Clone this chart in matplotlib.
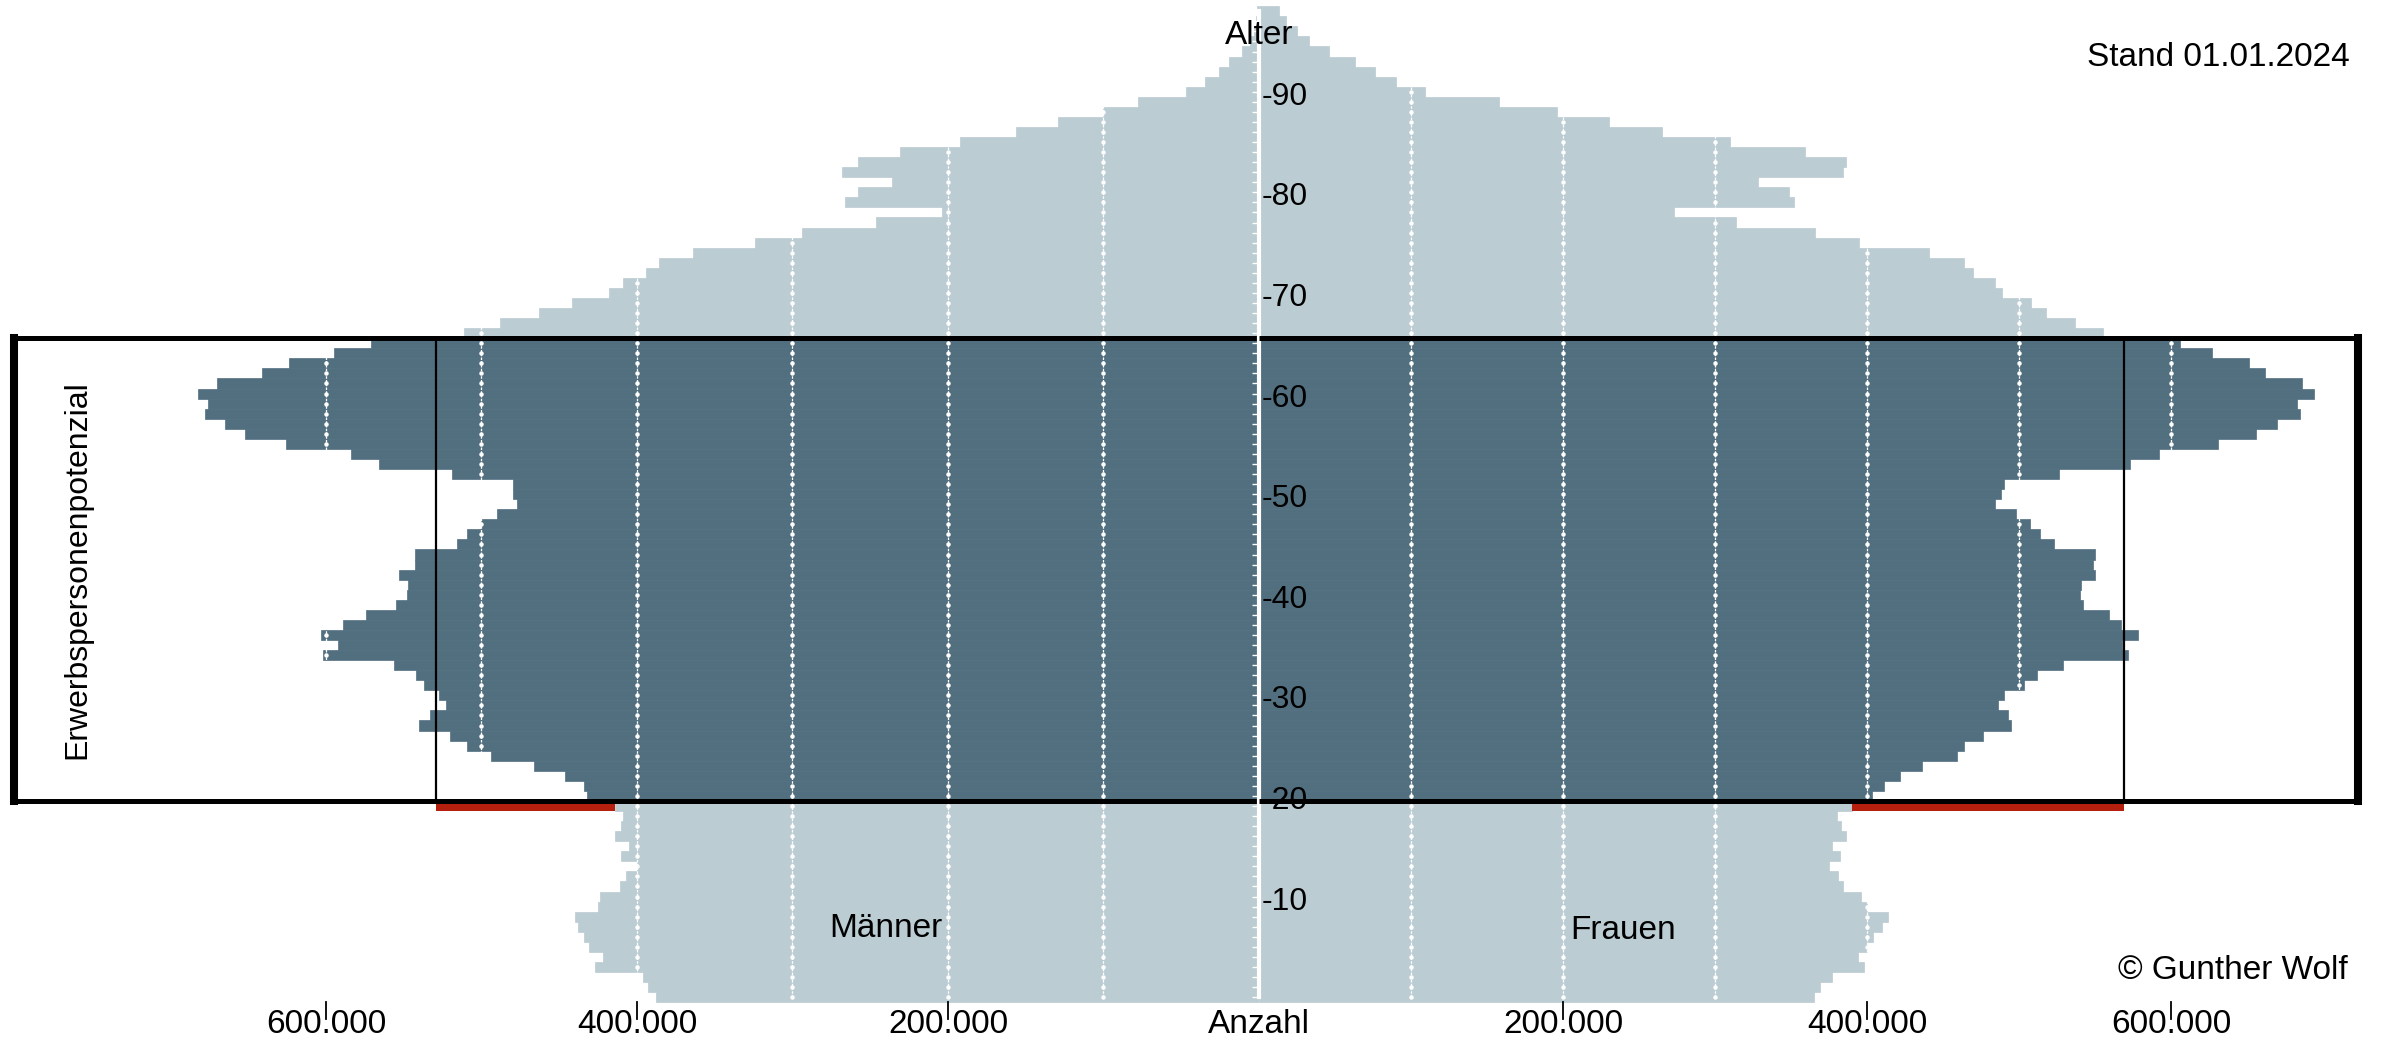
import matplotlib.pyplot as plt
import numpy as np

plt.rcParams['font.family'] = ['Liberation Sans', 'DejaVu Sans']

# Altersjahre 0 bis 98
alter = np.arange(99)

# Bevoelkerung nach Alter in Tausend, Stand 01.01.2024
maenner_tsd = [
    388, 393, 396, 427, 422, 431, 434, 438, 440, 425,
    424, 411, 407, 400, 410, 405, 414, 410, 409, 414,
    432, 434, 446, 466, 494, 509, 520, 540, 533, 523,
    527, 537, 542, 556, 602, 592, 603, 589, 574, 555,
    548, 547, 553, 543, 543, 516, 509, 500, 490, 477,
    480, 480, 519, 566, 584, 626, 652, 665, 678, 676,
    682, 670, 641, 624, 595, 571, 511, 488, 463, 442,
    418, 409, 394, 386, 364, 324, 294, 246, 204, 266,
    258, 236, 268, 258, 231, 192, 156, 129, 100, 78,
    47, 35, 26, 19, 11, 6, 3.5, 2, 1]
frauen_tsd = [
    365, 369, 377, 398, 394, 400, 404, 410, 414, 400,
    396, 384, 381, 375, 382, 377, 386, 383, 380, 390,
    403, 411, 422, 436, 459, 464, 476, 495, 493, 486,
    490, 503, 512, 529, 572, 568, 578, 567, 559, 542,
    540, 541, 550, 549, 550, 523, 514, 507, 498, 484,
    488, 490, 526, 573, 592, 631, 656, 670, 685, 683,
    694, 686, 662, 651, 627, 606, 555, 537, 518, 508,
    489, 484, 470, 464, 441, 395, 366, 314, 273, 352,
    349, 328, 384, 386, 359, 310, 265, 230, 196, 158,
    109, 90, 76, 63, 46, 33, 25, 18, 13]
maenner = np.array(maenner_tsd) * 1000
frauen = np.array(frauen_tsd) * 1000

# Erwerbspersonenpotenzial: 20 bis unter 66 Jahre
erwerb_von, erwerb_bis = 20, 66
# innerer Rahmen (Kohortenbreite) je Geschlecht
rahmen_innen_m = 529000
rahmen_innen_f = 569000

gitter = [100000, 200000, 300000, 400000, 500000, 600000, 700000]
x_ticks = [200000, 400000, 600000]
x_tick_texte = ['200.000', '400.000', '600.000']
alter_ticks = [10, 20, 30, 40, 50, 60, 70, 80, 90]

hell = '#bbccd3'
dunkel = '#526f80'
rot = '#b5200e'

fig = plt.figure(figsize=(23.82, 10.39), dpi=100)
mitte = 1259 / 2382
ax_m = fig.add_axes([0, 0, mitte, 1])
ax_f = fig.add_axes([mitte, 0, 1 - mitte, 1])

ylim = (-3.66, 99.62)
ax_m.set_xlim(809600, 0)
ax_f.set_xlim(0, 738800)
rahmen_aussen = {ax_m: 800600, ax_f: 723000}

for ax, werte, innen in [(ax_m, maenner, rahmen_innen_m), (ax_f, frauen, rahmen_innen_f)]:
    farben = [dunkel if erwerb_von <= a < erwerb_bis else hell for a in alter]
    ax.barh(alter, werte, height=1.0, align='edge', color=farben,
            edgecolor=farben, linewidth=0.5, zorder=1)
    # weisse Gitterlinien
    for g in gitter:
        ax.plot(np.full(alter.size, g), alter + 0.5, color='white', lw=0.9,
                ls=(0, (2, 1)), marker='o', ms=2.2, zorder=2)
    # Rahmen
    aussen = rahmen_aussen[ax]
    for y in [erwerb_von, erwerb_bis]:
        ax.plot([aussen, 0], [y, y], color='black', lw=3.6,
                solid_capstyle='butt', clip_on=False, zorder=6)
    ax.plot([aussen, aussen], [erwerb_von, erwerb_bis], color='black', lw=5.8,
            solid_capstyle='projecting', clip_on=False, zorder=6)
    ax.plot([innen, innen], [erwerb_von, erwerb_bis], color='black', lw=1.6,
            clip_on=False, zorder=6)
    # rote Luecke unter dem Kasten
    start = werte[erwerb_von - 1]
    ax.barh(erwerb_von - 1, innen - start, left=start, height=0.8, align='edge',
            color=rot, zorder=5)
    # x-Achse
    for v, t in zip(x_ticks, x_tick_texte):
        ax.plot([v, v], [0.0, -1.7], color='black', lw=1.3, clip_on=False, zorder=5)
        ax.text(v, -3.1, t, ha='center', va='baseline', fontsize=24)
    ax.set_ylim(*ylim)
    ax.axis('off')

# Mittellinie
ax_f.plot(np.zeros(alter.size), alter + 0.5, color='white', lw=3, marker=0, ms=5,
          mew=1, clip_on=False, zorder=3)
for a in alter_ticks:
    ax_f.text(1500, a, '-' + str(a), ha='left', va='center', fontsize=23, zorder=4)

fig.text(mitte, 0.9654, 'Alter', ha='center', va='center', fontsize=24)
fig.text(mitte, 0.0055, 'Anzahl', ha='center', va='baseline', fontsize=24)
fig.text(0.9866, 0.9442, 'Stand 01.01.2024', ha='right', va='center', fontsize=24)
fig.text(0.9857, 0.0664, '© Gunther Wolf', ha='right', va='center', fontsize=24)
fig.text(0.3720, 0.1059, 'Männer', ha='center', va='center', fontsize=24)
fig.text(0.6814, 0.1049, 'Frauen', ha='center', va='center', fontsize=24)
fig.text(0.0323, 0.4519, 'Erwerbspersonenpotenzial', ha='center', va='center',
         rotation=90, fontsize=23)

plt.savefig('out.png', dpi=100, facecolor='white')
plt.close()
